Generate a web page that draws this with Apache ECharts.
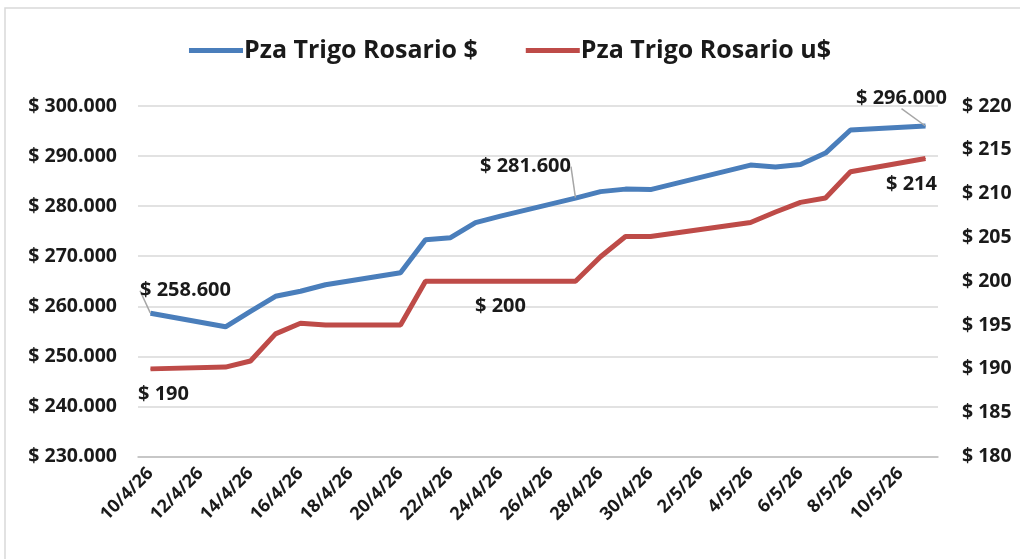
<!DOCTYPE html>
<html>
<head>
<meta charset="utf-8">
<script src="https://cdn.jsdelivr.net/npm/echarts@6/dist/echarts.min.js"></script>
<style>
  html, body { margin: 0; padding: 0; background: #fff; }
  #chart { width: 1020px; height: 559px; }
</style>
</head>
<body>
<div id="chart"></div>
<script>
// dias corridos del eje (10/4/26 al 11/5/26)
const fechas = [
  '10/4/26', '11/4/26', '12/4/26', '13/4/26', '14/4/26', '15/4/26', '16/4/26', '17/4/26',
  '18/4/26', '19/4/26', '20/4/26', '21/4/26', '22/4/26', '23/4/26', '24/4/26', '25/4/26',
  '26/4/26', '27/4/26', '28/4/26', '29/4/26', '30/4/26', '1/5/26', '2/5/26', '3/5/26',
  '4/5/26', '5/5/26', '6/5/26', '7/5/26', '8/5/26', '9/5/26', '10/5/26', '11/5/26'
];
// precio en pesos (null = sin operaciones)
const trigoPesos = [
  258600, null, null, 255900, 259000, 262000, 263000, 264300,
  null, null, 266700, 273300, 273700, 276700, 278000, null,
  null, 281600, 282900, 283400, 283300, null, null, null,
  288200, 287800, 288300, 290600, 295200, null, null, 296000
];
// precio en dolares
const trigoDolares = [
  190, null, null, 190.2, 190.9, 194, 195.2, 195,
  null, null, 195, 200, 200, 200, 200, null,
  null, 200, 202.8, 205.1, 205.1, null, null, null,
  206.7, 207.9, 209, 209.5, 212.5, null, null, 214
];
const ticksPesos = [230000, 300000, 10000];
const ticksDolares = [180, 220, 5];

const chart = echarts.init(document.getElementById('chart'));

const FONT = '"Open Sans", sans-serif';
const AZUL = '#4a7ebb';
const ROJO = '#be4b48';

function miles(v) {
  return '$ ' + Math.round(v).toString().replace(/\B(?=(\d{3})+(?!\d))/g, '.');
}

const etiqueta = {
  show: true,
  fontFamily: FONT,
  fontWeight: 'bold',
  fontSize: 20,
  color: '#1a1a1a'
};

// etiquetas puntuales como en el grafico original
const labelsPesos = {
  0: { position: 'top' },
  17: { position: 'top' },
  31: { position: 'top' }
};
const labelsDolares = {
  0: { position: 'bottom', offset: [13, 10] },
  14: { position: 'bottom', offset: [0, 10] },
  31: { position: 'bottom', offset: [-14, 10] }
};

function armar(valores, labels, fmt) {
  return valores.map((v, i) => {
    if (labels[i] && v != null) {
      return {
        value: v,
        label: Object.assign({}, etiqueta, labels[i], { formatter: fmt(v) })
      };
    }
    return v;
  });
}

chart.setOption({
  animation: false,
  graphic: [{
    type: 'rect',
    shape: { x: 5, y: 8, width: 1030, height: 600 },
    style: { fill: 'none', stroke: '#d9d9d9', lineWidth: 1.5 },
    silent: true
  }],
  legend: {
    top: 33,
    left: 'center',
    icon: 'rect',
    itemWidth: 54,
    itemHeight: 5,
    itemGap: 48,
    textStyle: { fontFamily: FONT, fontWeight: 'bold', fontSize: 25, color: '#1a1a1a', padding: [0, 0, 0, -4] }
  },
  grid: { left: 138, right: 82, top: 106, height: 350.5 },
  xAxis: {
    type: 'category',
    data: fechas,
    boundaryGap: true,
    axisLine: { lineStyle: { color: '#bfbfbf', width: 1.5 } },
    axisTick: { interval: 1, length: 6, lineStyle: { color: '#bfbfbf', width: 1.5 } },
    axisLabel: {
      interval: 1,
      rotate: 45,
      margin: 14,
      fontFamily: FONT,
      fontWeight: 'bold',
      fontSize: 18,
      color: '#1a1a1a'
    }
  },
  yAxis: [{
    type: 'value',
    min: ticksPesos[0],
    max: ticksPesos[1],
    interval: ticksPesos[2],
    axisLine: { show: false },
    axisTick: { show: false },
    splitLine: { lineStyle: { color: '#d9d9d9', width: 1.5 } },
    axisLabel: {
      margin: 21,
      fontFamily: FONT,
      fontWeight: 'bold',
      fontSize: 19.5,
      color: '#1a1a1a',
      formatter: miles
    }
  }, {
    type: 'value',
    min: ticksDolares[0],
    max: ticksDolares[1],
    interval: ticksDolares[2],
    axisLine: { show: false },
    axisTick: { show: false },
    splitLine: { show: false },
    axisLabel: {
      margin: 24,
      fontFamily: FONT,
      fontWeight: 'bold',
      fontSize: 19.5,
      color: '#1a1a1a',
      formatter: v => '$ ' + v
    }
  }],
  series: [{
    name: 'Pza Trigo Rosario $',
    type: 'line',
    yAxisIndex: 0,
    data: armar(trigoPesos, labelsPesos, miles),
    connectNulls: true,
    symbol: 'circle',
    symbolSize: 1,
    itemStyle: { color: AZUL },
    lineStyle: { color: AZUL, width: 5 },
    label: { show: false },
    labelLine: { show: true, lineStyle: { color: '#a6a6a6', width: 1.5 } },
    labelLayout: function (p) {
      if (p.dataIndex === 0) return { dx: 35, dy: -7 };
      if (p.dataIndex === 17) return { dx: -50, dy: -16 };
      if (p.dataIndex === 31) return { dx: -24, dy: -12 };
      return {};
    }
  }, {
    name: 'Pza Trigo Rosario u$',
    type: 'line',
    yAxisIndex: 1,
    data: armar(trigoDolares, labelsDolares, v => '$ ' + Math.round(v)),
    connectNulls: true,
    symbol: 'circle',
    symbolSize: 1,
    itemStyle: { color: ROJO },
    lineStyle: { color: ROJO, width: 5 },
    label: { show: false }
  }]
});
</script>
</body>
</html>
